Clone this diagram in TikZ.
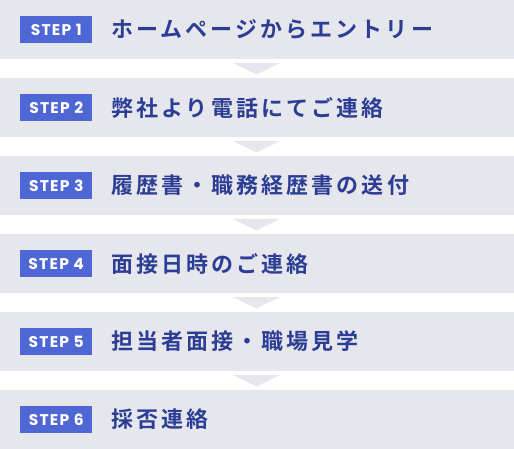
\documentclass[tikz,border=0pt]{standalone}
\usepackage{fontspec}
\newfontfamily\jpfont{Noto Sans CJK JP Bold}[LetterSpace=14]
\newfontfamily\badgefont{Poppins}[UprightFont=* Bold, LetterSpace=8]
\definecolor{bandgray}{HTML}{E6E7ED}
\definecolor{badgeblue}{HTML}{4F67D5}
\definecolor{textblue}{HTML}{2C3D95}
\tikzset{
  band/.style={fill=bandgray, draw=none},
  badge/.style={fill=badgeblue, text=white, inner sep=0pt, minimum width=72pt, minimum height=27pt, font=\badgefont\fontsize{15.5}{16}\selectfont, anchor=north west},
  label/.style={text=textblue, inner sep=0pt, anchor=west, font=\jpfont\fontsize{22}{24}\selectfont},
  arrowtri/.style={fill=bandgray, draw=none}
}
\begin{document}
\begin{tikzpicture}[x=1pt,y=-1pt]
\useasboundingbox (0,0) rectangle (514,449);
\foreach \i/\t in {1/ホームページからエントリー,2/弊社より電話にてご連絡,3/履歴書・職務経歴書の送付,4/面接日時のご連絡,5/担当者面接・職場見学,6/採否連絡}{
  \pgfmathsetmacro{\top}{78*(\i-1)}
  \fill[bandgray] (0,\top) rectangle (514,\top+59);
  \node[badge] (b\i) at (20,\top+16) {STEP \i};
  \node[label] (t\i) at (111,\top+29.5) {\t};
}
\foreach \i in {1,...,5}{
  \pgfmathsetmacro{\top}{78*(\i-1)+63}
  \fill[bandgray] (233,\top) -- (280,\top) -- (256.5,\top+11.5) -- cycle;
}
\end{tikzpicture}
\end{document}
